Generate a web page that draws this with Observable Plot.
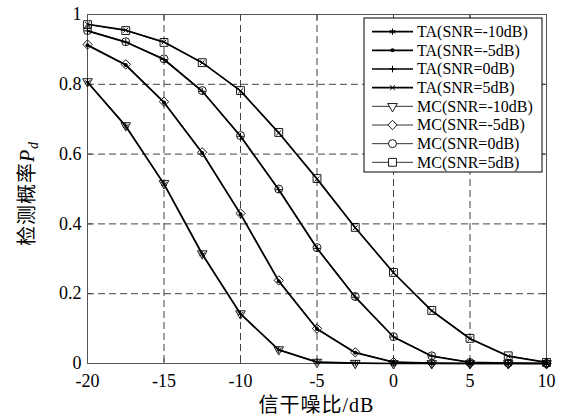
<!DOCTYPE html>
<html><head><meta charset="utf-8">
<script src="https://cdn.jsdelivr.net/npm/d3@7"></script>
<script src="https://cdn.jsdelivr.net/npm/@observablehq/plot@0.6"></script>
<style>
html,body{margin:0;padding:0;background:#fff;}
#chart svg{font-family:"Liberation Serif","Times New Roman","Noto Sans CJK SC",serif;}
</style></head><body><div id="chart"></div>
<script>
// ---- data ----
const sinr = [-20, -17.5, -15, -12.5, -10, -7.5, -5, -2.5, 0, 2.5, 5, 7.5, 10];
const taM10 = [0.806, 0.680, 0.514, 0.313, 0.142, 0.039, 0.004, 0.001, 0.000, 0.000, 0.000, 0.000, 0.000];
const taM5  = [0.912, 0.855, 0.748, 0.603, 0.428, 0.236, 0.099, 0.031, 0.004, 0.001, 0.000, 0.000, 0.000];
const ta0   = [0.953, 0.921, 0.871, 0.780, 0.651, 0.498, 0.330, 0.190, 0.076, 0.021, 0.003, 0.001, 0.000];
const ta5   = [0.972, 0.955, 0.921, 0.862, 0.781, 0.661, 0.529, 0.389, 0.260, 0.151, 0.071, 0.021, 0.003];
const mcM10 = [0.808, 0.682, 0.516, 0.315, 0.143, 0.040, 0.004, 0.001, 0.000, 0.000, 0.000, 0.000, 0.000];
const mcM5  = [0.914, 0.857, 0.750, 0.605, 0.430, 0.238, 0.100, 0.032, 0.004, 0.001, 0.000, 0.000, 0.000];
const mc0   = [0.954, 0.922, 0.873, 0.782, 0.653, 0.500, 0.332, 0.192, 0.077, 0.022, 0.003, 0.001, 0.000];
const mc5   = [0.971, 0.954, 0.920, 0.862, 0.782, 0.662, 0.530, 0.390, 0.261, 0.152, 0.072, 0.022, 0.003];
const seriesNames = ["TA(SNR=-10dB)", "TA(SNR=-5dB)", "TA(SNR=0dB)", "TA(SNR=5dB)",
                     "MC(SNR=-10dB)", "MC(SNR=-5dB)", "MC(SNR=0dB)", "MC(SNR=5dB)"];
const seriesValues = [taM10, taM5, ta0, ta5, mcM10, mcM5, mc0, mc5];
const xTicks = [-20, -15, -10, -5, 0, 5, 10];
const yTicks = [0, 0.2, 0.4, 0.6, 0.8, 1];
const xLabel = "信干噪比/dB";
const yLabelMain = "检测概率";

// ---- styles (separate from data) ----
const styles = [
  {symbol: "asterisk", r: 3,   fill: "none",  sw: 1.7, msw: 1},
  {symbol: "circle",   r: 2,   fill: "black", sw: 1.7, msw: 0},
  {symbol: "plus",     r: 2.3, fill: "none",  sw: 1.7, msw: 1},
  {symbol: "times",    r: 2.3, fill: "none",  sw: 1.7, msw: 1},
  {symbol: "triangle2",r: 4.6, fill: "none",  sw: 0.8, msw: 0.9, rotate: 180},
  {symbol: "diamond2", r: 4.2, fill: "none",  sw: 0.8, msw: 0.9},
  {symbol: "circle",   r: 4,   fill: "none",  sw: 0.8, msw: 0.9},
  {symbol: "square2",  r: 5,   fill: "none",  sw: 0.8, msw: 0.9}
];

const rows = seriesNames.map((name, k) => sinr.map((x, i) => ({x, y: seriesValues[k][i], name})));

const W = 573, H = 419;
const mL = 87, mR = 27, mT = 14, mB = 56;
const FONT = '"Liberation Serif","Times New Roman","Noto Sans CJK SC",serif';

const marks = [
  Plot.gridX(xTicks.slice(1, -1), {stroke: "#222", strokeOpacity: 0.85, strokeWidth: 1, strokeDasharray: "7,4"}),
  Plot.gridY(yTicks.slice(1, -1), {stroke: "#222", strokeOpacity: 0.85, strokeWidth: 1, strokeDasharray: "7,4"}),
  Plot.axisX(xTicks, {anchor: "bottom", tickSize: -5, tickFormat: () => "", stroke: "#444"}),
  Plot.axisX(xTicks, {anchor: "top", tickSize: -5, tickFormat: () => "", stroke: "#444"}),
  Plot.axisY(yTicks, {anchor: "left", tickSize: -5, tickFormat: () => "", stroke: "#444"}),
  Plot.axisY(yTicks, {anchor: "right", tickSize: -5, tickFormat: () => "", stroke: "#444"}),
  Plot.axisX(xTicks, {anchor: "bottom", tickSize: 0, tickPadding: 11, fontSize: 18, label: null, fill: "black",
                       tickFormat: d => String(d)}),
  Plot.axisY(yTicks, {anchor: "left", tickSize: 0, tickPadding: 6, fontSize: 18, label: null, fill: "black",
                       tickFormat: d => d === 0 || d === 1 ? String(d) : d.toFixed(1)}),
  Plot.frame({stroke: "#555", strokeWidth: 1})
];
rows.forEach((data, k) => {
  const s = styles[k];
  marks.push(Plot.line(data, {x: "x", y: "y", stroke: "black", strokeWidth: s.sw}));
});
rows.forEach((data, k) => {
  const s = styles[k];
  marks.push(Plot.dot(data, {x: "x", y: "y", symbol: () => s.symbol, r: s.r,
    fill: s.fill, stroke: s.fill === "none" ? "black" : "none", strokeWidth: s.msw, rotate: s.rotate || 0}));
});

const chart = Plot.plot({
  width: W, height: H,
  marginLeft: mL, marginRight: mR, marginTop: mT, marginBottom: mB,
  style: {fontFamily: FONT, fontSize: "18px", color: "black", background: "white"},
  x: {domain: [-20, 10], label: null},
  y: {domain: [0, 1], label: null},
  symbol: {type: "identity"},
  marks
});
document.getElementById("chart").appendChild(chart);

// ---- axis titles ----
const svg = d3.select(chart);
const xs = chart.scale("x"), ys = chart.scale("y");
const cx = (xs.apply(-20) + xs.apply(10)) / 2;
const cy = (ys.apply(0) + ys.apply(1)) / 2;
svg.append("text").attr("x", cx).attr("y", 412).attr("text-anchor", "middle")
  .attr("font-size", 20).attr("letter-spacing", 1).attr("fill", "black").text(xLabel);
const yl = svg.append("text").attr("transform", `translate(34,${cy + 5}) rotate(-90)`)
  .attr("text-anchor", "middle").attr("font-size", 20).attr("letter-spacing", 1).attr("fill", "black");
yl.append("tspan").text(yLabelMain);
yl.append("tspan").attr("font-style", "italic").text("P");
yl.append("tspan").attr("font-style", "italic").attr("font-size", 14).attr("dy", 4).text("d");

// ---- legend ----
const lg = svg.append("g").attr("text-anchor", "start").attr("font-family", FONT);
const lx = 364, ly = 18, lw = 178, lh = 154, rowH = 18.66, firstRow = 31.7;
lg.append("rect").attr("x", lx).attr("y", ly).attr("width", lw).attr("height", lh)
  .attr("fill", "white").attr("stroke", "black").attr("stroke-width", 1);
const symMap = {asterisk: d3.symbolAsterisk, circle: d3.symbolCircle, plus: d3.symbolPlus, times: d3.symbolTimes,
  triangle2: d3.symbolTriangle2, diamond2: d3.symbolDiamond2, square2: d3.symbolSquare2};
seriesNames.forEach((name, k) => {
  const s = styles[k];
  const y = firstRow + k * rowH;
  lg.append("line").attr("x1", 372).attr("x2", 413).attr("y1", y).attr("y2", y)
    .attr("stroke", "black").attr("stroke-width", s.sw);
  lg.append("path").attr("d", d3.symbol(symMap[s.symbol], Math.PI * s.r * s.r)())
    .attr("transform", `translate(392.5,${y}) rotate(${s.rotate || 0})`)
    .attr("fill", s.fill === "none" ? "white" : s.fill).attr("stroke", s.fill === "none" ? "black" : "none")
    .attr("stroke-width", s.msw);
  lg.append("text").attr("x", 417).attr("y", y).attr("dy", "0.33em").attr("font-size", 16)
    .attr("text-anchor", "start").attr("fill", "black").text(name);
});
</script></body></html>
